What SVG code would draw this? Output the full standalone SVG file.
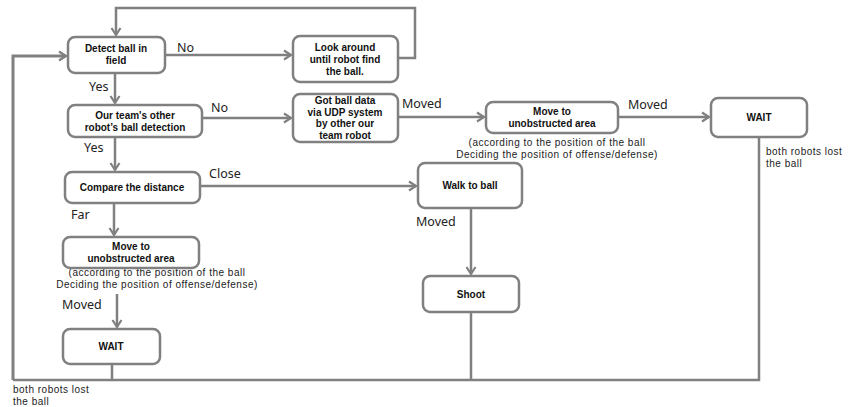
<svg xmlns="http://www.w3.org/2000/svg" width="849" height="407" viewBox="0 0 849 407">
<defs>
<marker id="ah" markerUnits="userSpaceOnUse" markerWidth="12" markerHeight="12" refX="9" refY="6" orient="auto">
<path d="M2,1.5 L9,6 L2,10.5" fill="none" stroke="#808080" stroke-width="2.2"/>
</marker>
</defs>
<style>
.box{fill:#fff;stroke:#808080;stroke-width:2.5}
.t{font-family:"Liberation Sans",Arial,sans-serif;font-weight:bold;font-size:10px;fill:#111;text-anchor:middle}
.l{font-family:"Noto Sans","Liberation Sans",sans-serif;font-size:12.5px;fill:#222}
.c{font-family:"Liberation Sans",Arial,sans-serif;font-size:10px;letter-spacing:0.5px;fill:#222}
.e{fill:none;stroke:#808080;stroke-width:2.5}
.a{marker-end:url(#ah)}
</style>
<g id="connectors">
<path class="e a" d="M398,58 H415 V8 H116 V35"/>
<path class="e a" d="M165,55 H291"/>
<path class="e a" d="M115,73 V103"/>
<path class="e a" d="M202,118 H291"/>
<path class="e a" d="M115,137 V170"/>
<path class="e a" d="M200,186 H416"/>
<path class="e a" d="M114,203 V235"/>
<path class="e a" d="M398,117 H484"/>
<path class="e a" d="M618,117 H709"/>
<path class="e a" d="M471,208 V274"/>
<path class="e a" d="M117,294 V327"/>
<path class="e" d="M471,312 V380"/>
<path class="e" d="M112,364 V380"/>
<path class="e" d="M759,137 V380 H13"/>
<path class="e a" d="M13,380 V56 H66" style="stroke-width:3"/>
</g>
<g id="labels">
<text class="l" x="177" y="52">No</text>
<text class="l" x="89" y="91">Yes</text>
<text class="l" x="211" y="112">No</text>
<text class="l" x="84" y="152">Yes</text>
<text class="l" x="209" y="178">Close</text>
<text class="l" x="71" y="219">Far</text>
<text class="l" x="62" y="309">Moved</text>
<text class="l" x="402" y="108">Moved</text>
<text class="l" x="628" y="109">Moved</text>
<text class="l" x="416" y="226">Moved</text>
<text class="c" x="766" y="155">both robots lost</text>
<text class="c" x="766" y="166.5">the ball</text>
<text class="c" x="13" y="393">both robots lost</text>
<text class="c" x="13" y="404.5">the ball</text>
<text class="c" x="557" y="146" text-anchor="middle">(according to the position of the ball</text>
<text class="c" x="557" y="157.5" text-anchor="middle">Deciding the position of offense/defense)</text>
<text class="c" x="157" y="276" text-anchor="middle">(according to the position of the ball</text>
<text class="c" x="157" y="287.5" text-anchor="middle">Deciding the position of offense/defense)</text>
</g>
<g id="detect">
<rect class="box" x="68" y="37" width="97" height="36" rx="7"/>
<text class="t" x="116" y="52">Detect ball in</text>
<text class="t" x="116" y="64">field</text>
</g>
<g id="lookaround">
<rect class="box" x="293" y="36" width="105" height="46" rx="7"/>
<text class="t" x="345" y="51">Look around</text>
<text class="t" x="345" y="63">until robot find</text>
<text class="t" x="345" y="75">the ball.</text>
</g>
<g id="teamdetect">
<rect class="box" x="68" y="105" width="134" height="32" rx="7"/>
<text class="t" x="135" y="119">Our team's other</text>
<text class="t" x="135" y="131">robot’s ball detection</text>
</g>
<g id="udp">
<rect class="box" x="293" y="94" width="105" height="48" rx="7"/>
<text class="t" x="345" y="104">Got ball data</text>
<text class="t" x="345" y="115.5">via UDP system</text>
<text class="t" x="345" y="127">by other our</text>
<text class="t" x="345" y="138.5">team robot</text>
</g>
<g id="compare">
<rect class="box" x="65" y="172" width="135" height="31" rx="7"/>
<text class="t" x="132" y="191">Compare the distance</text>
</g>
<g id="move1">
<rect class="box" x="486" y="102" width="132" height="31" rx="7"/>
<text class="t" x="552" y="115">Move to</text>
<text class="t" x="552" y="127">unobstructed area</text>
</g>
<g id="wait1">
<rect class="box" x="711" y="98" width="96" height="39" rx="7"/>
<text class="t" x="759" y="121">WAIT</text>
</g>
<g id="walk">
<rect class="box" x="418" y="163" width="104" height="45" rx="7"/>
<text class="t" x="470" y="189">Walk to ball</text>
</g>
<g id="shoot">
<rect class="box" x="423" y="276" width="96" height="36" rx="7"/>
<text class="t" x="471" y="298">Shoot</text>
</g>
<g id="move2">
<rect class="box" x="63" y="237" width="136" height="31" rx="7"/>
<text class="t" x="131" y="250">Move to</text>
<text class="t" x="131" y="262">unobstructed area</text>
</g>
<g id="wait2">
<rect class="box" x="63" y="329" width="97" height="35" rx="7"/>
<text class="t" x="111" y="350">WAIT</text>
</g>
</svg>
